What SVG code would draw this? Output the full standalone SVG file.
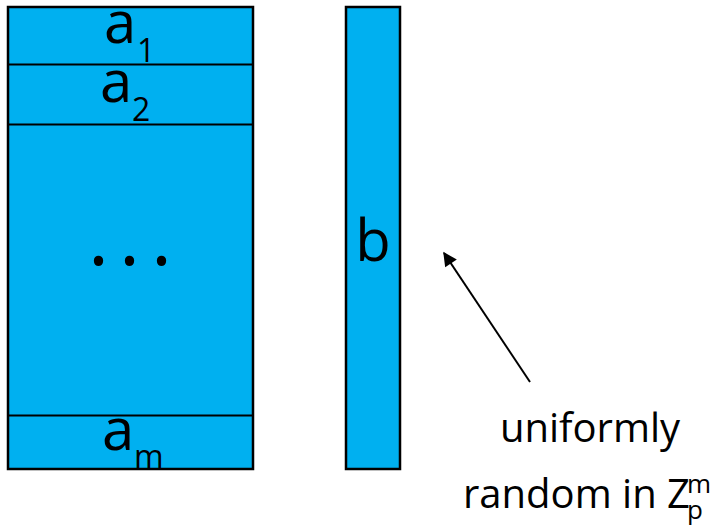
<svg xmlns="http://www.w3.org/2000/svg" width="721" height="532" viewBox="0 0 721 532">
  <style>
    .box { fill: #00B0F0; stroke: #000; stroke-width: 2.5; }
    .sep { stroke: #000; stroke-width: 2; }
    .big { font-family: "Open Sans", "Liberation Sans", sans-serif; font-size: 58px; fill: #000; }
    .dots { font-family: "Open Sans", "Liberation Sans", sans-serif; font-size: 80px; fill: #000; }
    .sub { font-family: "Open Sans", "Liberation Sans", sans-serif; font-size: 32px; fill: #000; }
    .lbl { font-family: "Open Sans", "Liberation Sans", sans-serif; font-size: 40px; fill: #000; }
    .sml { font-family: "Open Sans", "Liberation Sans", sans-serif; font-size: 26px; fill: #000; }
    .conn { stroke: #000; stroke-width: 2; fill: none; }
  </style>
  <defs>
    <marker id="ah" viewBox="0 0 10 10" refX="9" refY="5" markerWidth="7.5" markerHeight="7" markerUnits="strokeWidth" orient="auto">
      <path d="M0,0 L10,5 L0,10 Z" fill="#000"/>
    </marker>
  </defs>
  <g id="matrixA">
    <rect class="box" x="8" y="7" width="245" height="462"/>
    <line class="sep" x1="8" y1="64.5" x2="253" y2="64.5"/>
    <line class="sep" x1="8" y1="124.5" x2="253" y2="124.5"/>
    <line class="sep" x1="8" y1="415.5" x2="253" y2="415.5"/>
    <text class="big" x="104" y="43">a</text>
    <text class="sub" x="137" y="62">1</text>
    <text class="big" x="100" y="102">a</text>
    <text class="sub" x="132" y="121">2</text>
    <text class="big" x="102" y="450">a</text>
    <text class="sub" x="134" y="468">m</text>
    <text class="dots" x="88 119 151" y="265">...</text>
  </g>
  <g id="vectorB">
    <rect class="box" x="346" y="7" width="54" height="462"/>
    <text class="big" x="373" y="261" text-anchor="middle">b</text>
  </g>
  <g id="label">
    <text class="lbl" x="590" y="442" text-anchor="middle">uniformly</text>
    <text class="lbl" x="463" y="508">random in Z</text>
    <text class="sml" x="687" y="493">m</text>
    <text class="sml" x="687" y="519">p</text>
  </g>
  <g id="connectors">
    <line class="conn" x1="530" y1="382" x2="444" y2="253" marker-end="url(#ah)"/>
  </g>
</svg>
